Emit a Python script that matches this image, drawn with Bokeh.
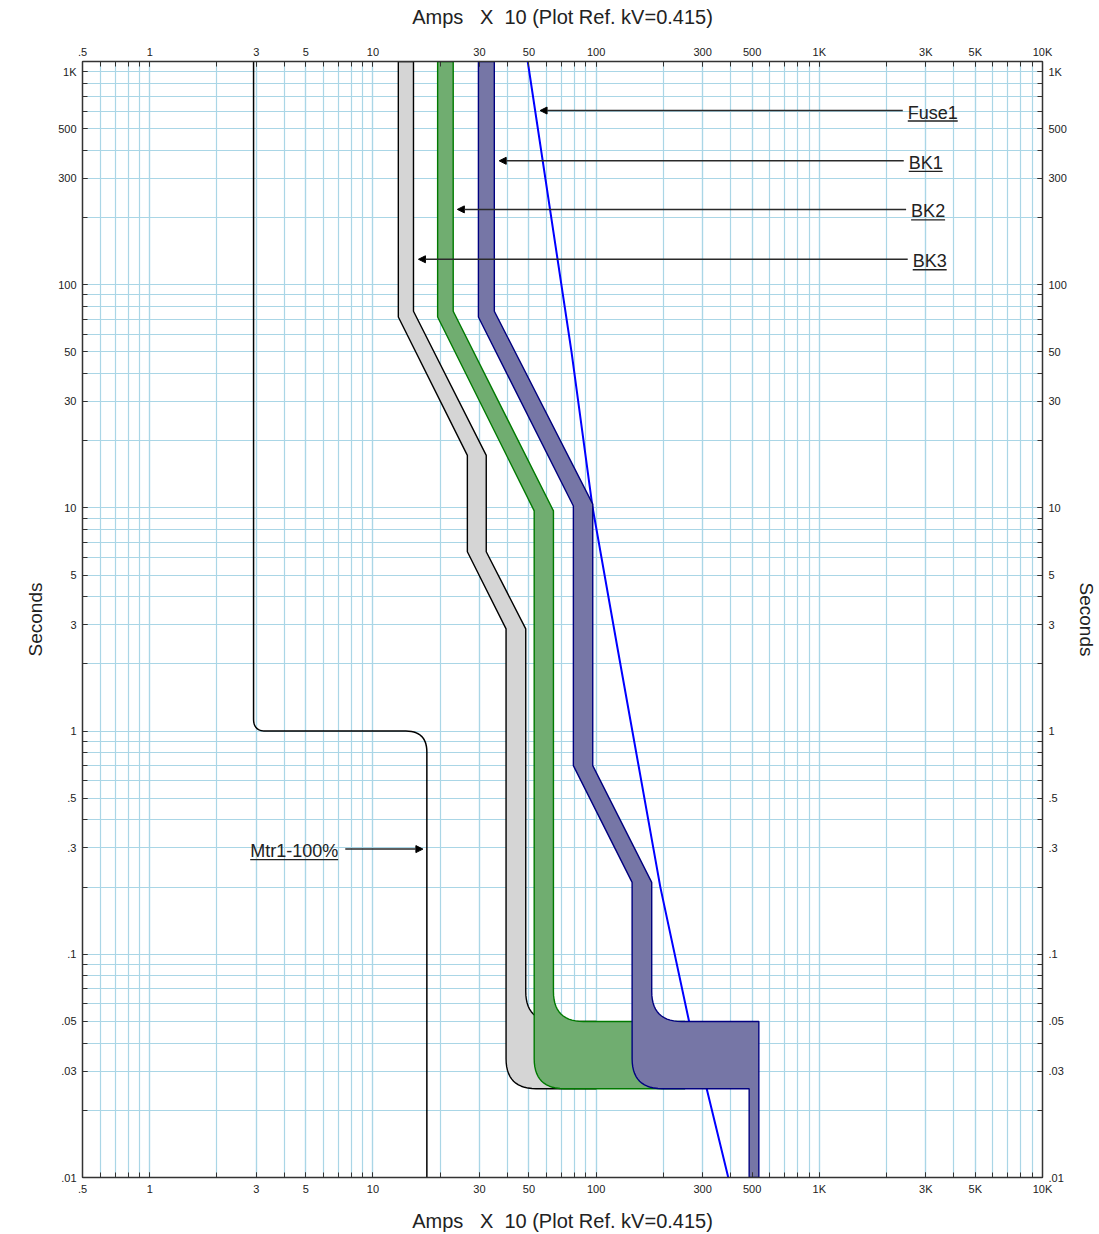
import numpy as np
from bokeh.plotting import figure
from bokeh.models import (LogAxis, FixedTicker, CustomJSTickFormatter, Range1d,
                          Arrow, NormalHead, ColumnDataSource)
from bokeh.core.properties import value
from bokeh.embed import file_html
from bokeh.resources import INLINE

# ---------------- data ----------------
x_tick_vals = [0.5, 1, 3, 5, 10, 30, 50, 100, 300, 500, 1000, 3000, 5000, 10000]
x_tick_labels = [".5", "1", "3", "5", "10", "30", "50", "100", "300", "500", "1K", "3K", "5K", "10K"]
y_tick_vals = [900, 500, 300, 100, 50, 30, 10, 5, 3, 1, 0.5, 0.3, 0.1, 0.05, 0.03, 0.01]
y_tick_labels = ["1K", "500", "300", "100", "50", "30", "10", "5", "3", "1", ".5", ".3", ".1", ".05", ".03", ".01"]

# Motor starting curve (Mtr1-100%)
mtr_I = [2.92, 2.92, 17.45, 17.45]
mtr_t = [1000, 1.0, 1.0, 0.01]

# Fuse1 curve
fuse_I = [49.4, 77.6, 96.2, 124, 194, 261, 313, 391]
fuse_t = [1000, 50, 10.2, 2.43, 0.20, 0.05, 0.025, 0.01]

# Breaker bands: min (lo) and max (hi) clearing curves
bk1_lo_I = [29.7, 29.7, 79.1, 79.1, 145, 145, 485, 485]
bk1_lo_t = [1000, 71.7, 10.2, 0.70, 0.21, 0.025, 0.025, 0.01]
bk1_hi_I = [35.0, 35.0, 96.6, 96.6, 177.5, 177.5, 536, 536]
bk1_hi_t = [1000, 76, 10.4, 0.70, 0.21, 0.05, 0.05, 0.01]

bk2_lo_I = [19.5, 19.5, 52.8, 52.8, 250]
bk2_lo_t = [1000, 71.7, 9.7, 0.025, 0.025]
bk2_hi_I = [22.9, 22.9, 64.4, 64.4, 250]
bk2_hi_t = [1000, 76, 9.7, 0.05, 0.05]

bk3_lo_I = [13.0, 13.0, 26.5, 26.5, 39.5, 39.5, 100]
bk3_lo_t = [1000, 71.7, 17.2, 6.36, 2.87, 0.025, 0.025]
bk3_hi_I = [15.2, 15.2, 32.2, 32.2, 48.4, 48.4, 100]
bk3_hi_t = [1000, 76, 17.2, 6.36, 2.87, 0.05, 0.05]

# Callout labels
label_names = ["Fuse1", "BK1", "BK2", "BK3"]
label_tail_I = [2366, 2390, 2449, 2490]
label_tip_I = [56.1, 36.8, 23.9, 16.0]
label_t = [603, 359, 217.5, 130]

mtr_label = "Mtr1-100%"
mtr_label_I = 2.82
mtr_arrow_tail_I = 7.52
mtr_arrow_tip_I = 16.75
mtr_arrow_t = 0.296

x_title = "Amps \u00a0 X \u00a010 (Plot Ref. kV=0.415)"
y_title = "Seconds"

# ---------------- layout ----------------
W, H = 1099, 1234
BL, BR, BT, BB = 82, 56, 61, 56
X0, X1 = 0.5, 10000
Y0, Y1 = 0.01, 1000
pxdec_x = (W - BL - BR) / np.log10(X1 / X0)
pxdec_y = (H - BT - BB) / np.log10(Y1 / Y0)

FONT = "Liberation Sans"
GRID = "#aad6e6"
AX = "#333333"
TXT = "#222222"


def rounded(I, t, radii, n=14):
    px = np.log10(np.array(I, float)) * pxdec_x
    py = np.log10(np.array(t, float)) * pxdec_y
    ox, oy = [], []
    for i in range(len(px)):
        r = radii[i]
        if r <= 0 or i == 0 or i == len(px) - 1:
            ox.append(px[i]); oy.append(py[i]); continue
        p = np.array([px[i], py[i]])
        a = np.array([px[i - 1], py[i - 1]]) - p; a /= np.hypot(*a)
        b = np.array([px[i + 1], py[i + 1]]) - p; b /= np.hypot(*b)
        p1 = p + a * r; p2 = p + b * r
        for k in range(n + 1):
            s = k / n
            q = (1 - s) ** 2 * p1 + 2 * s * (1 - s) * p + s ** 2 * p2
            ox.append(q[0]); oy.append(q[1])
    return 10 ** (np.array(ox) / pxdec_x), 10 ** (np.array(oy) / pxdec_y)


def band(lo_I, lo_t, hi_I, hi_t, corner_idx, r=30):
    rl = [r if i == corner_idx else 0 for i in range(len(lo_I))]
    rh = [r if i == corner_idx else 0 for i in range(len(hi_I))]
    lx, ly = rounded(lo_I, lo_t, rl)
    hx, hy = rounded(hi_I, hi_t, rh)
    return np.concatenate([lx, hx[::-1]]), np.concatenate([ly, hy[::-1]])


# Arial / Liberation Sans advance widths (per 1000 em)
ADV = {"F": 611, "u": 556, "s": 500, "e": 556, "B": 667, "K": 667, "M": 833, "t": 278,
       "r": 333, "-": 333, "%": 889}


def text_width(s, size):
    return sum(ADV.get(c, 556) for c in s) * size / 1000.0


p = figure(width=W, height=H, x_axis_type="log", y_axis_type="log",
           x_range=Range1d(X0, X1), y_range=Range1d(Y0, Y1),
           output_backend="svg", toolbar_location=None,
           min_border_left=BL, min_border_right=BR, min_border_top=BT, min_border_bottom=BB,
           background_fill_color="white", border_fill_color="white",
           outline_line_color=AX)

top_ax = LogAxis()
p.add_layout(top_ax, "above")
right_ax = LogAxis()
p.add_layout(right_ax, "right")

x_minor = [m * 10.0 ** e for e in range(-1, 4) for m in range(1, 10) if X0 <= m * 10.0 ** e <= X1] + [X1]
y_minor = [m * 10.0 ** e for e in range(-2, 3) for m in range(1, 10)] + [Y1]
xticker = FixedTicker(ticks=x_tick_vals, minor_ticks=x_minor)
yticker = FixedTicker(ticks=y_tick_vals, minor_ticks=y_minor)
code = ("for (let i = 0; i < vals.length; i++) {"
        " if (Math.abs(Math.log10(vals[i]) - Math.log10(tick)) < 1e-6) { return labs[i]; } }"
        " return '';")
xfmt = CustomJSTickFormatter(args=dict(vals=x_tick_vals, labs=x_tick_labels), code=code)
yfmt = CustomJSTickFormatter(args=dict(vals=y_tick_vals, labs=y_tick_labels), code=code)

bottom_ax = p.below[0]
left_ax = p.left[0]
for ax in (bottom_ax, top_ax):
    ax.ticker = xticker
    ax.formatter = xfmt
    ax.axis_label = x_title
for ax in (left_ax, right_ax):
    ax.ticker = yticker
    ax.formatter = yfmt
    ax.axis_label = y_title

for ax in (bottom_ax, top_ax, left_ax, right_ax):
    ax.axis_line_color = AX
    ax.axis_line_width = 1.5
    ax.major_tick_in = 5
    ax.major_tick_out = 0
    ax.minor_tick_in = 5
    ax.minor_tick_out = 0
    ax.major_tick_line_color = AX
    ax.minor_tick_line_color = AX
    ax.major_label_text_font = FONT
    ax.major_label_text_font_size = "11px"
    ax.major_label_text_color = TXT
    ax.axis_label_text_font = FONT
    ax.axis_label_text_font_size = "19px"
    ax.axis_label_text_font_style = "normal"
    ax.axis_label_text_color = TXT

top_ax.axis_label_text_font_size = "20px"
bottom_ax.axis_label_text_font_size = "20px"
top_ax.major_label_standoff = 4
top_ax.axis_label_standoff = 15
bottom_ax.major_label_standoff = 5
bottom_ax.axis_label_standoff = 12
left_ax.major_label_standoff = 6
left_ax.axis_label_standoff = 9
right_ax.major_label_standoff = 6
right_ax.axis_label_standoff = 6

p.xgrid.ticker = xticker
p.ygrid.ticker = yticker
for g in (p.xgrid, p.ygrid):
    g.grid_line_color = GRID
    g.minor_grid_line_color = GRID
    g.grid_line_width = 1.2
    g.minor_grid_line_width = 1.2

# ---------------- curves ----------------
mx, my = rounded(mtr_I, mtr_t, [0, 12, 21, 0])
p.line(mx, my, line_color="black", line_width=1.5)

p.line(fuse_I, fuse_t, line_color="#0000ff", line_width=2)

b3x, b3y = band(bk3_lo_I, bk3_lo_t, bk3_hi_I, bk3_hi_t, 5)
p.patch(b3x, b3y, fill_color="#d5d5d5", line_color="black", line_width=1.4)

b2x, b2y = band(bk2_lo_I, bk2_lo_t, bk2_hi_I, bk2_hi_t, 3)
p.patch(b2x, b2y, fill_color="#70ad70", line_color="#007a00", line_width=1.4)

b1x, b1y = band(bk1_lo_I, bk1_lo_t, bk1_hi_I, bk1_hi_t, 5)
p.patch(b1x, b1y, fill_color="#7676a6", line_color="#000080", line_width=1.4)

# ---------------- callouts ----------------
ARROW = "#2a2a2a"
asrc = ColumnDataSource(dict(
    xs=label_tail_I + [mtr_arrow_tail_I], ys=label_t + [mtr_arrow_t],
    xe=label_tip_I + [mtr_arrow_tip_I], ye=label_t + [mtr_arrow_t]))
p.add_layout(Arrow(end=NormalHead(size=7, fill_color="black", line_color="black", line_width=1),
                   x_start="xs", y_start="ys", x_end="xe", y_end="ye",
                   line_color=ARROW, line_width=1.5, source=asrc))

FS = 18
GAP = 5
txt_I = [xi * 10 ** (GAP / pxdec_x) for xi in label_tail_I] + [mtr_label_I]
txt_t = label_t + [mtr_arrow_t]
txt_s = label_names + [mtr_label]
p.text(x=txt_I, y=txt_t, text=txt_s, text_font=value(FONT), text_font_size=f"{FS}px",
       text_color=TXT, text_align="left", text_baseline="alphabetic", y_offset=2)

ul_x0 = txt_I
ul_x1 = [x0 * 10 ** (text_width(s, FS) / pxdec_x) for x0, s in zip(txt_I, txt_s)]
ul_y = [t * 10 ** (-10.5 / pxdec_y) for t in txt_t]
p.segment(x0=ul_x0, y0=ul_y, x1=ul_x1, y1=ul_y, line_color=TXT, line_width=1.3)

open("out.html", "w").write(file_html(p, INLINE))
